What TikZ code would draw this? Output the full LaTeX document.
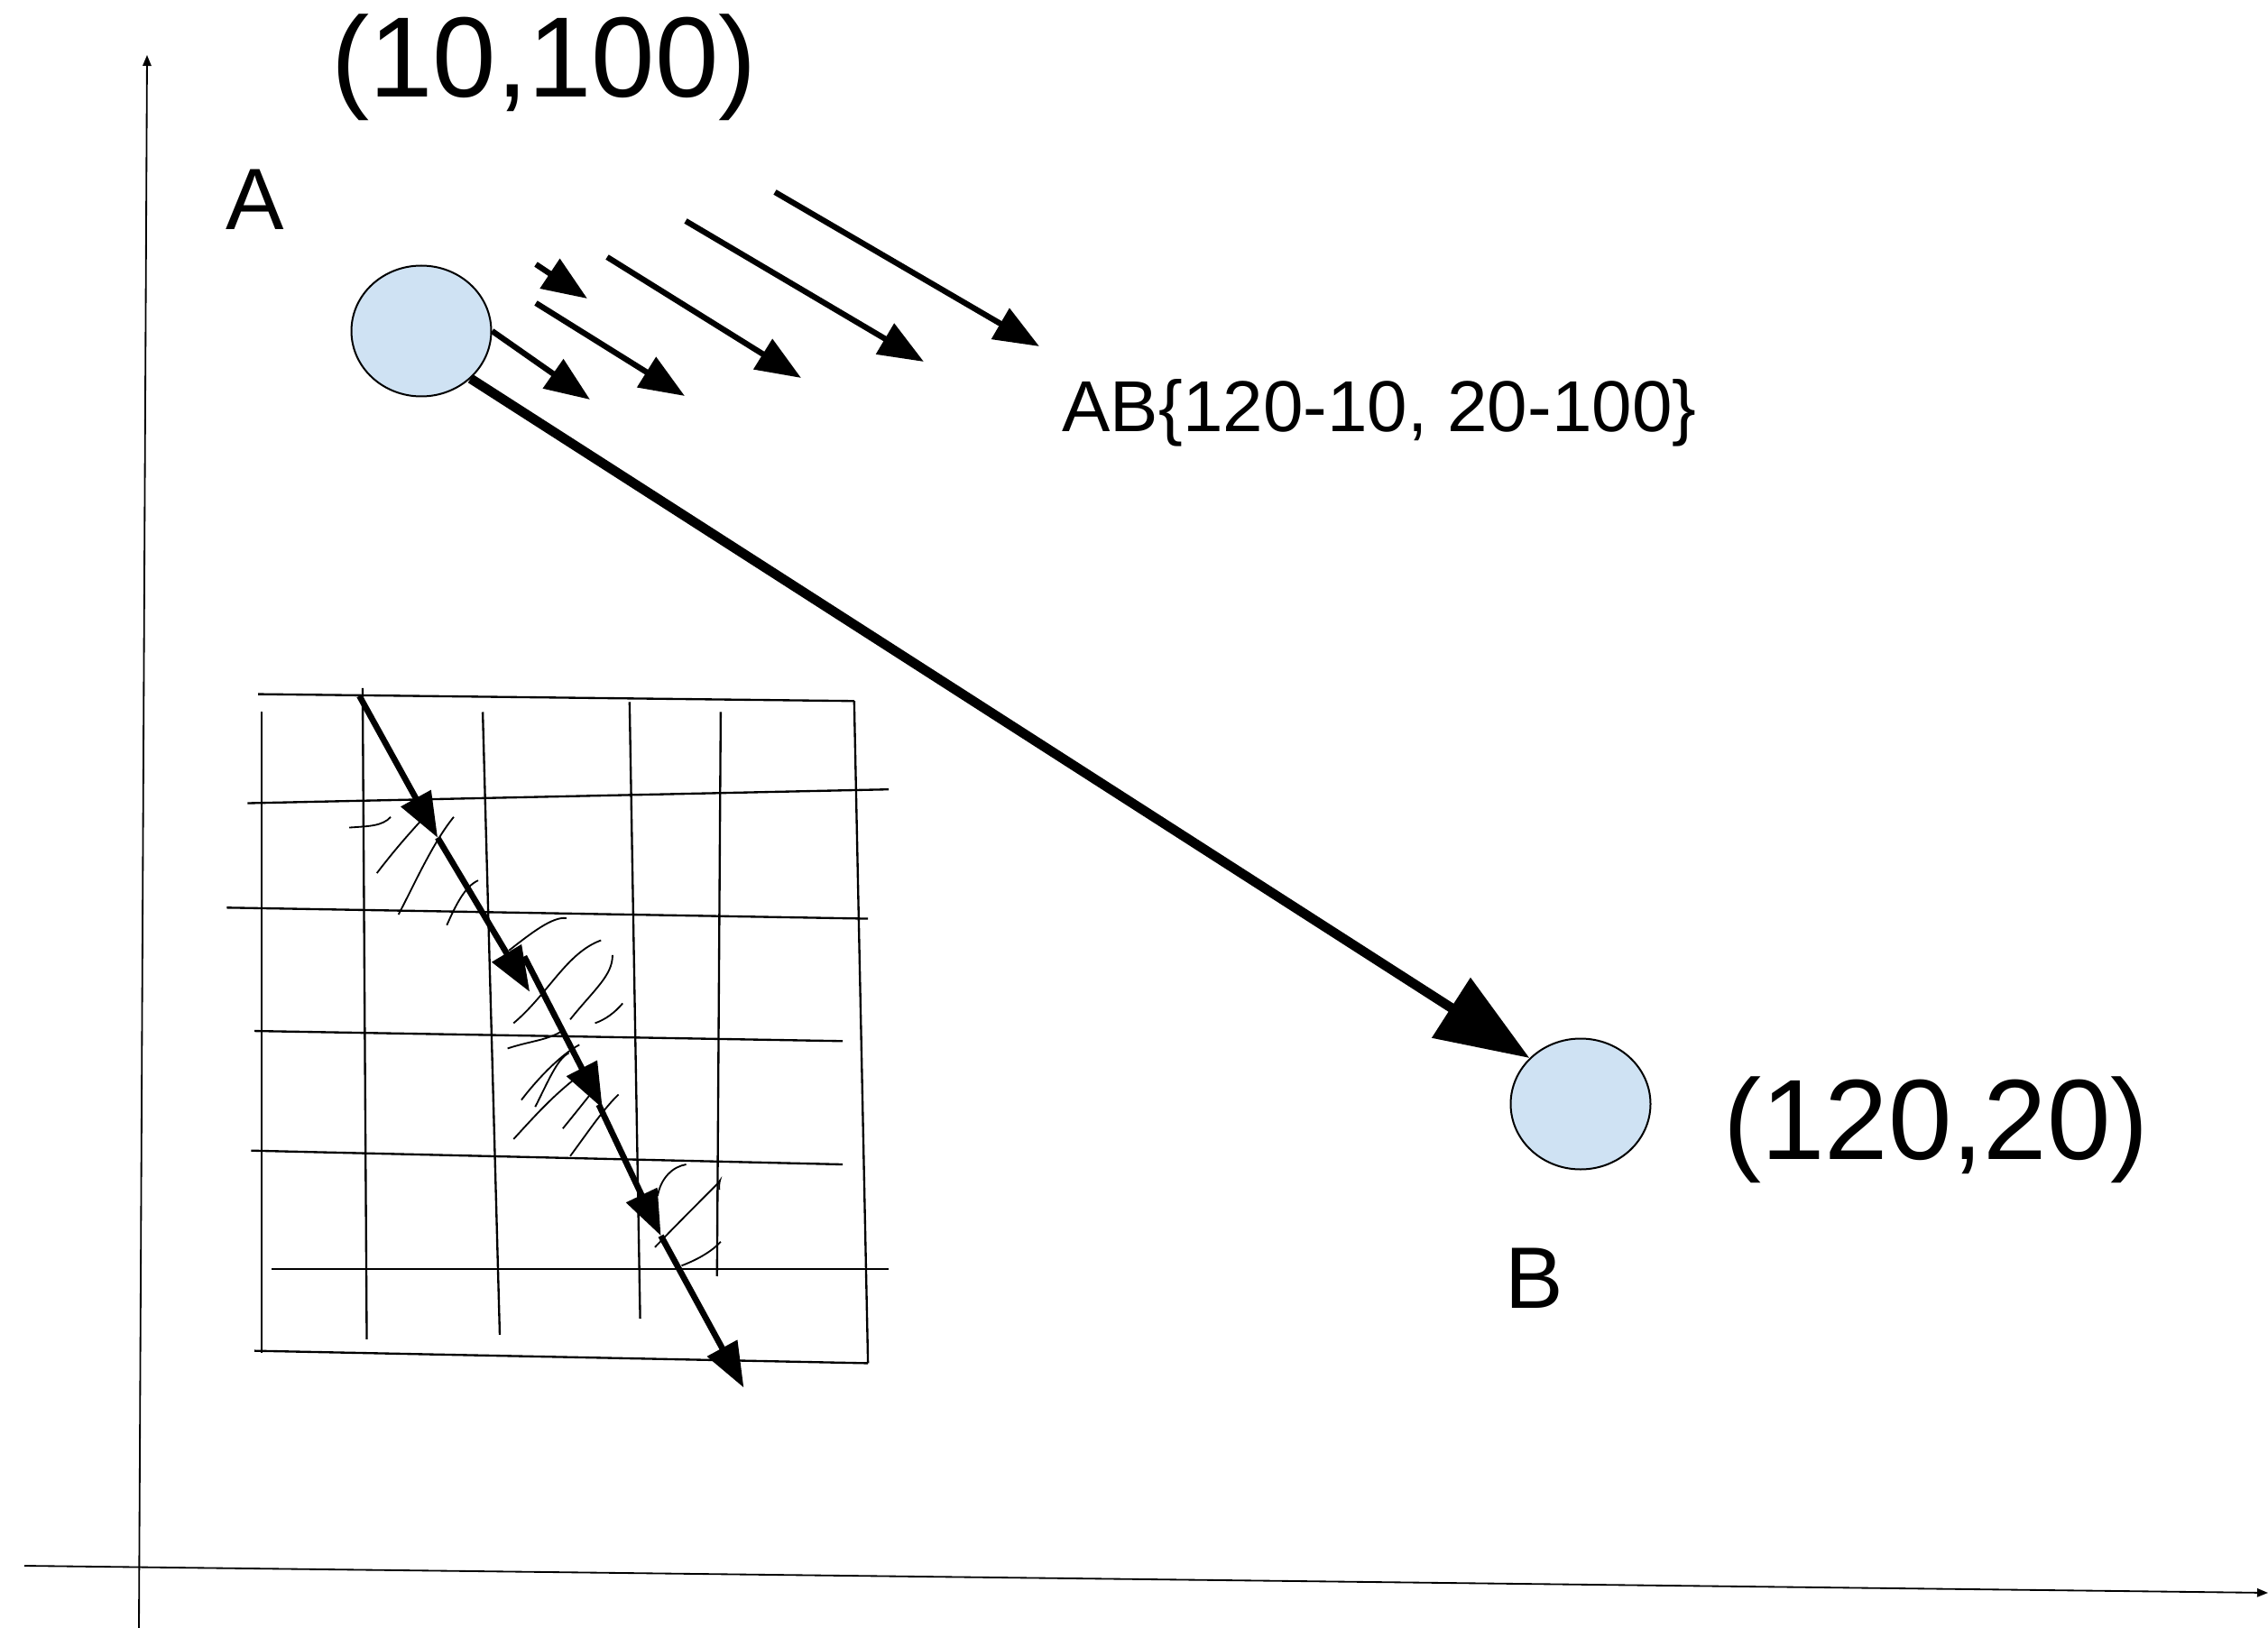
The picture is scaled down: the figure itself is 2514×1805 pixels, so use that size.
\documentclass[tikz,border=0pt]{standalone}
\usepackage{fontspec}
\setmainfont{Liberation Sans}
\usetikzlibrary{arrows.meta,shapes.geometric}
\definecolor{dotblue}{HTML}{CFE2F3}
\tikzset{
  dot/.style={ellipse,draw=black,line width=0.6pt,fill=dotblue,minimum width=46.5pt,minimum height=43.5pt,inner sep=0pt},
  axis/.style={line width=0.55pt,-{Triangle[length=3.6pt,width=2.8pt]}},
  bigarrow/.style={line width=3.2pt,-{Triangle[length=31pt,width=23pt]}},
  smallarrow/.style={line width=1.9pt,-{Triangle[length=15pt,width=11.5pt]}},
  gridarrow/.style={line width=2pt,-{Triangle[length=15pt,width=11pt]}},
  gridline/.style={line width=0.7pt},
  scribble/.style={line width=0.55pt},
  bigtext/.style={font=\fontsize{38}{44}\selectfont,inner sep=0pt,anchor=base},
  lettertext/.style={font=\fontsize{29}{34}\selectfont,inner sep=0pt,anchor=base},
  labeltext/.style={font=\fontsize{24}{28}\selectfont,inner sep=0pt,anchor=base}
}
\begin{document}
\begin{tikzpicture}[x=0.3pt,y=-0.3pt]
\useasboundingbox (0,0) rectangle (2514,1805);
% axes
\coordinate (ybot) at (154,1805);
\coordinate (ytop) at (163,61);
\coordinate (xleft) at (27,1736);
\coordinate (xright) at (2514,1766);
\draw[axis] (ybot) -- (ytop);
\draw[axis] (xleft) -- (xright);
% nodes
\node[dot] (A) at (467,367) {};
\node[dot] (B) at (1752,1224) {};
\node[bigtext] (tA) at (603,108) {(10,100)};
\node[bigtext] (tB) at (2146,1285) {(120,20)};
\node[lettertext] (lA) at (283,255) {A};
\node[lettertext] (lB) at (1701,1450) {B};
\node[labeltext] (lAB) at (1529,479) {AB\{120-10, 20-100\}};
% main arrow
\draw[bigarrow] (A.-44) -- (B.138);
% small arrows
\coordinate (t1) at (654,443);
\coordinate (s2) at (594,336); \coordinate (t2) at (759,439);
\coordinate (s3) at (594,293); \coordinate (t3) at (651,331);
\coordinate (s4) at (673,285); \coordinate (t4) at (888,419);
\coordinate (s5) at (760,245); \coordinate (t5) at (1024,401);
\coordinate (s6) at (859,213); \coordinate (t6) at (1152,384);
\draw[smallarrow] (A.east) -- (t1);
\draw[smallarrow] (s2) -- (t2);
\draw[smallarrow] (s3) -- (t3);
\draw[smallarrow] (s4) -- (t4);
\draw[smallarrow] (s5) -- (t5);
\draw[smallarrow] (s6) -- (t6);
% grid sketch (coordinates of a 1.96x enlargement, origin at (230,740))
\begin{scope}[shift={(230,740)},scale=0.5102]
  \draw[gridline] (110,58) -- (1405,73);
  \draw[gridline] (87,295) -- (1480,265);
  \draw[gridline] (42,522) -- (1435,546);
  \draw[gridline] (102,790) -- (1380,812);
  \draw[gridline] (95,1050) -- (1380,1080);
  \draw[gridline] (140,1307) -- (1480,1307);
  \draw[gridline] (102,1485) -- (1435,1512);
  \draw[gridline] (118,97) -- (118,1490);
  \draw[gridline] (337,45) -- (346,1460);
  \draw[gridline] (598,97) -- (635,1450);
  \draw[gridline] (917,75) -- (940,1415);
  \draw[gridline] (1115,97) -- (1107,1323);
  \draw[gridline] (1405,73) -- (1435,1512);
  % scribbles
  \draw[scribble] (308,348) .. controls (350,345) and (380,345) .. (398,325);
  \draw[scribble] (368,447) .. controls (400,405) and (430,370) .. (462,335);
  \draw[scribble] (415,537) .. controls (450,470) and (490,380) .. (535,325);
  \draw[scribble] (520,560) .. controls (540,515) and (560,475) .. (588,463);
  \draw[scribble] (655,615) .. controls (700,580) and (750,540) .. (780,545);
  \draw[scribble] (665,773) .. controls (740,710) and (780,620) .. (855,593);
  \draw[scribble] (788,765) .. controls (840,700) and (880,670) .. (880,625);
  \draw[scribble] (842,773) .. controls (865,765) and (885,750) .. (902,730);
  \draw[scribble] (652,828) .. controls (700,812) and (740,810) .. (770,790);
  \draw[scribble] (682,940) .. controls (720,890) and (770,840) .. (808,820);
  \draw[scribble] (712,955) .. controls (740,900) and (760,850) .. (785,838);
  \draw[scribble] (665,1025) .. controls (720,965) and (760,920) .. (830,870);
  \draw[scribble] (772,1002) .. controls (790,980) and (810,955) .. (830,930);
  \draw[scribble] (788,1062) .. controls (830,1005) and (860,960) .. (893,928);
  \draw[scribble] (978,1148) .. controls (985,1110) and (1010,1085) .. (1040,1080);
  \draw[scribble] (972,1260) .. controls (1020,1210) and (1080,1150) .. (1105,1125) .. controls (1120,1110) and (1110,1110) .. (1112,1135);
  \draw[scribble] (1030,1300) .. controls (1070,1285) and (1100,1265) .. (1115,1248);
  % arrow chain
  \coordinate (g0) at (330,62);
  \coordinate (g1) at (500,370);
  \coordinate (g2) at (700,705);
  \coordinate (g2b) at (688,628);
  \coordinate (g3) at (858,958);
  \coordinate (g3b) at (850,950);
  \coordinate (g4) at (985,1235);
  \coordinate (g5) at (1165,1565);
  \draw[gridarrow] (g0) -- (g1);
  \draw[gridarrow] (g1) -- (g2);
  \draw[gridarrow] (g2b) -- (g3);
  \draw[gridarrow] (g3b) -- (g4);
  \draw[gridarrow] (g4) -- (g5);
\end{scope}
\end{tikzpicture}
\end{document}
